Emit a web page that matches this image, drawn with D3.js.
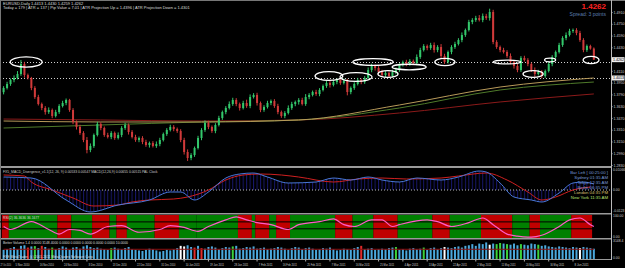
<!DOCTYPE html>
<html><head><meta charset="utf-8">
<script src="https://cdn.jsdelivr.net/npm/d3@7"></script>
<style>
html,body{margin:0;padding:0;background:#000;overflow:hidden;}
svg{display:block;}
text{font-family:"Liberation Sans",Arial,sans-serif;}
</style></head><body><svg id="chart"></svg><script>
// EURUSD daily, bar by bar (close), open = previous close
const closes = [
  1.3877,1.3931,1.3985,1.4013,1.4067,1.4203,1.4053,1.4013,1.3877,1.3754,
  1.3659,1.3605,1.3550,1.3578,1.3496,1.3550,1.3632,1.3673,1.3714,1.3578,
  1.3415,1.3347,1.3265,1.3170,1.3034,1.3088,1.3238,1.3387,1.3333,1.3238,
  1.3211,1.3265,1.3197,1.3238,1.3333,1.3374,1.3279,1.3211,1.3170,1.3197,
  1.3143,1.3102,1.3129,1.3088,1.3115,1.3170,1.3251,1.3306,1.3347,1.3319,
  1.3292,1.3170,1.3007,1.2925,1.2966,1.3061,1.3197,1.3306,1.3401,1.3347,
  1.3292,1.3374,1.3469,1.3550,1.3605,1.3659,1.3714,1.3659,1.3605,1.3673,
  1.3632,1.3754,1.3782,1.3673,1.3578,1.3618,1.3673,1.3700,1.3632,1.3550,
  1.3496,1.3537,1.3605,1.3659,1.3686,1.3714,1.3659,1.3754,1.3782,1.3822,
  1.3795,1.3850,1.3904,1.3945,1.3918,1.3958,1.3985,1.3945,1.3972,1.3822,
  1.3877,1.3931,1.3985,1.3958,1.4013,1.4121,1.4176,1.4149,1.4094,1.4053,
  1.4081,1.4040,1.4094,1.4121,1.4189,1.4230,1.4203,1.4244,1.4217,1.4298,
  1.4393,1.4448,1.4420,1.4461,1.4393,1.4434,1.4312,1.4230,1.4366,1.4434,
  1.4475,1.4529,1.4597,1.4665,1.4774,1.4801,1.4828,1.4801,1.4855,1.4828,
  1.4910,1.4502,1.4434,1.4393,1.4366,1.4312,1.4230,1.4176,1.4121,1.4285,
  1.4257,1.4203,1.4121,1.4067,1.4094,1.4040,1.4108,1.4203,1.4298,1.4366,
  1.4461,1.4556,1.4597,1.4652,1.4665,1.4624,1.4529,1.4393,1.4448,1.4413,
  1.4262
];
const firstOpen = 1.3820;
// wick lengths above / below the body, in pips
const wickHi = [
  25,30,20,35,40,55,30,20,15,25, 30,20,25,35,20,30,25,30,20,15,
  25,20,30,25,40,35,20,30,25,20, 30,25,20,35,25,30,20,25,30,20,
  25,30,20,25,35,30,20,25,30,25, 20,25,30,35,25,20,30,25,35,30,
  20,25,30,20,25,35,30,25,20,30, 45,35,25,30,20,25,30,20,25,30,
  20,25,35,30,20,25,30,40,25,20, 30,25,20,35,25,30,20,25,35,30,
  20,25,30,20,25,35,30,20,25,30, 25,20,30,35,25,20,30,25,20,35,
  30,25,20,30,35,25,40,30,20,25, 30,25,35,20,30,25,30,40,35,30,
  45,30,25,20,30,25,35,20,30,25, 30,25,20,35,30,25,20,30,25,20,
  30,25,35,30,20,25,30,25,20,17, 15
];
const wickLo = [
  30,20,25,30,20,25,35,20,30,25, 20,30,35,25,30,20,25,20,30,25,
  30,35,25,30,45,30,25,20,30,25, 20,30,25,20,30,25,35,20,25,30,
  30,25,35,20,25,30,20,25,20,30, 25,30,35,40,30,25,20,30,25,30,
  25,30,20,25,30,20,25,30,35,20, 25,30,20,35,30,25,20,30,25,30,
  25,30,20,25,30,35,20,25,30,20, 25,30,20,25,35,20,30,25,20,45,
  30,25,20,30,25,20,30,35,25,20, 30,25,20,30,25,20,30,25,20,30,
  25,20,30,25,35,30,40,25,20,30, 25,20,30,25,20,30,25,20,30,25,
  35,30,25,30,20,25,30,35,30,25, 20,30,25,35,20,30,25,20,30,25,
  20,25,30,20,25,30,25,30,25,15, 3
];
const volumes = [
  1600,1750,1900,2100,1700,2300,2400,2000,2200,2250, 1900,2300,2100,1800,2000,1700,1900,2200,2000,1600,
  2000,2100,1800,2200,2400,2100,1900,2000,1800,1700, 1600,1900,2000,1800,1700,1900,2100,1700,1600,1500,
  1400,1600,1800,1700,1500,1300,1400,1600,1500,1700, 1900,2300,2200,2400,2100,2000,2300,1900,1800,2100,
  2200,2000,1700,1900,2100,2000,2200,2300,1800,1900, 2100,2000,2200,1800,1900,2000,1700,1800,1900,2100,
  2000,1800,1600,1900,2100,2000,1700,1900,2000,1800, 1600,1700,1900,1800,2000,1700,1500,1600,1800,1700,
  1600,1900,2100,2300,1700,1800,1900,1600,1700,1800, 1700,1900,2000,2100,1600,1700,1500,1800,1900,1700,
  1800,2000,1600,1900,2000,1700,1900,2100,2000,1900, 2100,2200,2000,2300,2400,2600,2300,2700,2600,2900,
  2500,2700,2600,2800,2700,2600,2500,2700,2400,2600, 2500,2400,2700,2600,2500,2300,2400,2200,2100,2000,
  2200,2100,2000,1900,2100,2000,1900,2100,2000,1900, 1800
];
const volColored = [[7,"red"],[9,"green"],[11,"red"],[14,"green"],[31,"green"],[51,"white"],[52,"white"],
  [55,"red"],[57,"red"],[66,"green"],[103,"red"],[113,"green"],[121,"green"],[127,"white"],[140,"white"],
  [142,"green"],[143,"green"],[145,"green"],[149,"green"],[154,"green"],[166,"white"]];
const volAvg = [[0,1700],[170,1700]];

// moving averages [bar, price]
const maTan = [[0,1.3428],[28,1.3415],[57,1.3415],[85,1.3442],[114,1.3646],[143,1.3890],[170,1.4013]];
const maGreen = [[0,1.3333],[28,1.3374],[57,1.3415],[85,1.3442],[114,1.3605],[143,1.3850],[170,1.3958]];
const maRed = [[0,1.3455],[28,1.3442],[57,1.3428],[85,1.3442],[114,1.3537],[143,1.3687],[170,1.3796]];
const levels = [1.4230, 1.4013];

// MACD main (blue) and signal (red) [bar, value]
const macdMain = [[0,0.0065],[8,0.0060],[18,-0.0050],[25,-0.0110],[33,-0.0075],[42,-0.0050],[48,-0.0010],
  [51,-0.0010],[55,-0.0050],[59,-0.0010],[64,0.0060],[68,0.0080],[72,0.0085],[76,0.0065],[82,0.0035],
  [90,0.0040],[95,0.0060],[100,0.0050],[105,0.0065],[109,0.0050],[114,0.0040],[119,0.0060],[126,0.0050],
  [131,0.0065],[137,0.0095],[139,0.0090],[143,0.0035],[147,-0.0035],[152,-0.0050],[155,-0.0060],
  [160,-0.0015],[164,0.0035],[167,0.0040],[170,0.0030]];
const macdSignal = [[0,0.0075],[6,0.0070],[8,0.0040],[14,0.0000],[20,-0.0040],[26,-0.0080],[33,-0.0075],
  [37,-0.0060],[42,-0.0050],[49,-0.0045],[53,-0.0035],[59,0.0000],[64,0.0050],[69,0.0075],[74,0.0080],
  [80,0.0075],[85,0.0065],[95,0.0040],[102,0.0055],[109,0.0060],[116,0.0055],[126,0.0060],[131,0.0070],
  [139,0.0085],[145,0.0050],[151,-0.0010],[155,-0.0050],[159,-0.0035],[164,0.0000],[169,0.0015]];

// RSI [bar, value] and trend zones [from, to, colour]
const rsi = [[0,50],[2,37],[8,71],[13,37],[16,17],[19,37],[22,33],[25,17],[30,50],[34,54],[39,25],[45,37],
  [48,54],[52,46],[56,29],[59,50],[64,79],[67,92],[70,79],[73,67],[77,58],[82,37],[85,58],[91,71],[95,83],
  [98,58],[101,50],[106,79],[109,79],[112,50],[114,58],[122,79],[125,71],[129,50],[134,67],[138,87],
  [141,58],[145,17],[148,8],[151,4],[152,4],[155,12],[160,50],[163,79],[166,87],[169,58],[170,50]];
const rsiZones = [[0,2,"r"],[2,16,"g"],[16,20,"r"],[20,26,"g"],[26,31,"r"],[31,33,"g"],[33,36,"r"],
  [36,44,"g"],[44,51,"r"],[51,56,"g"],[56,68,"g"],[68,72,"r"],[72,73,"g"],[73,77,"r"],[77,79,"g"],
  [79,83,"r"],[83,96,"g"],[96,101,"r"],[101,107,"g"],[107,114,"r"],[114,124,"g"],[124,129,"r"],
  [129,138,"g"],[138,147,"r"],[147,152,"g"],[152,155,"r"],[155,164,"g"],[164,170,"r"]];

const priceTicks = [1.4910,1.4750,1.4590,1.4430,1.4270,1.4110,1.3950,1.3790,1.3630,1.3470,1.3310,1.3150,1.2990,1.2830];
const dateLabels = ["5 Nov 2010","16 Nov 2010","24 Nov 2010","3 Dec 2010","13 Dec 2010","22 Dec 2010",
  "31 Dec 2010","10 Jan 2011","19 Jan 2011","28 Jan 2011","7 Feb 2011","16 Feb 2011","25 Feb 2011",
  "7 Mar 2011","16 Mar 2011","25 Mar 2011","4 Apr 2011","13 Apr 2011","22 Apr 2011","2 May 2011",
  "11 May 2011","20 May 2011","30 May 2011","8 Jun 2011"];
const firstDate = "27 Oct 2010";
// hand drawn marks: [centre bar, centre price, half width in bars, half height in pips]
const ellipses = [[6.5,1.4230,4.6,70],[93.7,1.4040,4,60],[101.5,1.4026,4.6,60],[106.4,1.4230,5.8,45],
  [110.7,1.4067,2.9,45],[116.8,1.4162,4.9,38],[127.1,1.4230,2.9,50],[145,1.4230,4,25],[152.5,1.4067,2.9,45],
  [157.4,1.4257,1.6,25],[169.2,1.4257,2.3,50]];

const W = 625, H = 268;
const svg = d3.select("#chart").attr("width", W).attr("height", H);
svg.append("rect").attr("width", W).attr("height", H).attr("fill", "#000");

const x = d3.scaleLinear().domain([0, 170]).range([3.6, 3.6 + 170 * 3.472]);
const y = d3.scaleLinear().domain([1.2830, 1.4910]).range([165, 12]);
const axisX = 611;

const bars = closes.map((c, i) => {
  const o = i == 0 ? firstOpen : closes[i - 1];
  return {i: i, o: o, c: c, h: Math.max(o, c) + wickHi[i] / 10000, l: Math.min(o, c) - wickLo[i] / 10000};
});

const main = svg.append("g");
main.append("clipPath").attr("id", "mainclip").append("rect").attr("x", 0).attr("y", 1).attr("width", axisX).attr("height", 165);
const mg = main.append("g").attr("clip-path", "url(#mainclip)");

// level lines
mg.selectAll("line.lvl").data(levels).enter().append("line")
  .attr("x1", 0).attr("x2", axisX).attr("y1", d => Math.round(y(d)) + 0.5).attr("y2", d => Math.round(y(d)) + 0.5)
  .attr("stroke", "#cfcfcf").attr("stroke-width", 1).attr("stroke-dasharray", "1,2");

// moving averages
const maLine = d3.line().x(d => x(d[0])).y(d => y(d[1])).curve(d3.curveMonotoneX);
[[maRed, "#8b1a1a"], [maGreen, "#4f7a2a"], [maTan, "#b89a5a"]].forEach(m => {
  mg.append("path").attr("d", maLine(m[0])).attr("fill", "none").attr("stroke", m[1]).attr("stroke-width", 1);
});

// candles
const up = "#33c76b", dn = "#d03a3a";
const cg = mg.selectAll("g.bar").data(bars).enter().append("g");
cg.append("line").attr("x1", d => x(d.i)).attr("x2", d => x(d.i))
  .attr("y1", d => y(d.h)).attr("y2", d => y(d.l))
  .attr("stroke", d => d.c >= d.o ? up : dn).attr("stroke-width", 1);
cg.append("rect").attr("x", d => x(d.i) - 1).attr("width", 2)
  .attr("y", d => y(Math.max(d.o, d.c))).attr("height", d => Math.max(1, Math.abs(y(d.o) - y(d.c))))
  .attr("fill", d => d.c >= d.o ? up : dn);

// ellipses
mg.selectAll("ellipse").data(ellipses).enter().append("ellipse")
  .attr("cx", d => x(d[0])).attr("cy", d => y(d[1]))
  .attr("rx", d => d[2] * 3.472).attr("ry", d => Math.abs(y(d[1]) - y(d[1] + d[3] / 10000)))
  .attr("fill", "none").attr("stroke", "#fff").attr("stroke-width", 1.3);

// header texts
svg.append("text").attr("x", 3).attr("y", 5).attr("fill", "#ddd").attr("font-size", 4)
  .text("EURUSD,Daily  1.4413 1.4430 1.4259 1.4262");
svg.append("text").attr("x", 3).attr("y", 9.2).attr("fill", "#ddd").attr("font-size", 4)
  .text("Today = 179  |  ATR = 137  |  Pip Value = 7.01  |  ATR Projection Up = 1.4396  |  ATR Projection Down = 1.4301");
svg.append("text").attr("x", 606).attr("y", 9).attr("text-anchor", "end").attr("fill", "#ff2020")
  .attr("font-size", 8).attr("font-weight", "bold").text("1.4262");
svg.append("text").attr("x", 606).attr("y", 15.5).attr("text-anchor", "end").attr("fill", "#5c7fb0")
  .attr("font-size", 5).text("Spread: 3 points");

// price axis
const pa = svg.append("g").attr("transform", `translate(${axisX},0)`)
  .call(d3.axisRight(y).tickValues(priceTicks).tickSize(1.5).tickFormat(d3.format(".4f")));
pa.select(".domain").remove();
pa.selectAll("line").attr("stroke", "#bbb");
pa.selectAll("text").attr("fill", "#ccc").attr("font-size", 3.6).attr("x", 2.5).style("font-family", "Liberation Sans");
[[1.4262, "1.4262"], [1.4013, "1.4013"]].forEach(b => {
  svg.append("rect").attr("x", axisX + 1).attr("y", y(b[0]) - 2.5).attr("width", 12.5).attr("height", 5).attr("fill", "#eee");
  svg.append("text").attr("x", axisX + 2).attr("y", y(b[0]) + 1.4).attr("fill", "#000").attr("font-size", 3.6).text(b[1]);
});

// panel frames
const sep = "#9a9a9a";
[[166, 2], [213, 1.5], [238, 1.5], [259, 1]].forEach(s => {
  svg.append("rect").attr("x", 0).attr("y", s[0]).attr("width", axisX).attr("height", s[1]).attr("fill", sep);
});
svg.append("rect").attr("x", 0).attr("y", 0).attr("width", W).attr("height", 1).attr("fill", "#777");
svg.append("line").attr("x1", axisX + 0.5).attr("x2", axisX + 0.5).attr("y1", 0).attr("y2", 260).attr("stroke", "#bbb");
svg.append("line").attr("x1", 0.5).attr("x2", 0.5).attr("y1", 0).attr("y2", 260).attr("stroke", "#777");

// MACD panel
const ym = d3.scaleLinear().domain([-0.0110, 0.0100]).range([212, 170]);
const defs = svg.append("defs");
const pat = defs.append("pattern").attr("id", "hist").attr("patternUnits", "userSpaceOnUse")
  .attr("width", 3.472).attr("height", 10).attr("x", 3.1);
pat.append("rect").attr("width", 1).attr("height", 10).attr("fill", "#17176a");
defs.append("clipPath").attr("id", "macdclip").append("rect").attr("x", 0).attr("y", 168).attr("width", axisX).attr("height", 45);
const mp = svg.append("g").attr("clip-path", "url(#macdclip)");
mp.append("path").datum(macdMain)
  .attr("d", d3.area().x(d => x(d[0])).y0(ym(0)).y1(d => ym(d[1])).curve(d3.curveMonotoneX))
  .attr("fill", "url(#hist)");
mp.append("line").attr("x1", 0).attr("x2", axisX).attr("y1", ym(0)).attr("y2", ym(0))
  .attr("stroke", "#bbb").attr("stroke-dasharray", "1,2");
const ml = d3.line().x(d => x(d[0])).y(d => ym(d[1])).curve(d3.curveMonotoneX);
mp.append("path").attr("d", ml(macdSignal)).attr("fill", "none").attr("stroke", "#d02020").attr("stroke-width", 1);
mp.append("path").attr("d", ml(macdMain)).attr("fill", "none").attr("stroke", "#4a78d8").attr("stroke-width", 1);
svg.append("text").attr("x", 3).attr("y", 172.5).attr("fill", "#ccc").attr("font-size", 3.4)
  .text("FX5_MACD_Divergence_v1.1(12, 26, 9) 0.00533 0.00547   MACD(12,26,9) 0.00655 0.00515   PAL Clock");
const clock = [["Bar Left  [ 00:25:00 ]", "#7a9ad8"], ["Sydney    01:35 AM", "#7a9ad8"], ["Tokyo    12:35 AM", "#7a9ad8"],
  ["Berlin    06:35 PM", "#7a9ad8"], ["London    04:35 PM", "#d8c070"], ["New York    11:35 AM", "#b8e070"]];
clock.forEach((c, k) => {
  svg.append("text").attr("x", 608).attr("y", 174 + k * 5).attr("text-anchor", "end").attr("fill", c[1])
    .attr("font-size", 4.3).text(c[0]);
});

// RSI panel
const yr = d3.scaleLinear().domain([0, 100]).range([238, 215]);
const rp = svg.append("g");
rp.selectAll("rect.z").data(rsiZones).enter().append("rect")
  .attr("x", d => x(d[0]) - 1.736).attr("width", d => (d[1] - d[0]) * 3.472)
  .attr("y", 215).attr("height", 23).attr("fill", d => d[2] == "r" ? "#c00000" : "#008000");
[70, 40].forEach(v => rp.append("line").attr("x1", 0).attr("x2", x(170) + 2).attr("y1", yr(v)).attr("y2", yr(v)).attr("stroke", "#000"));
rp.append("path").attr("d", d3.line().x(d => x(d[0])).y(d => yr(d[1])).curve(d3.curveMonotoneX)(rsi))
  .attr("fill", "none").attr("stroke", "#ff5ac8").attr("stroke-width", 1.2);
svg.append("text").attr("x", 3).attr("y", 218.5).attr("fill", "#ddd").attr("font-size", 3.4).text("RSI(2) 36.3636 36.1677");

// volume panel
const yv = d3.scaleLinear().domain([0, 3148.4]).range([259, 241]);
const vcol = {red: "#e02a2a", green: "#3bd23b", white: "#ffffff"};
const vc = new Map(volColored);
svg.selectAll("rect.vol").data(volumes).enter().append("rect")
  .attr("x", (d, i) => x(i) - 1).attr("width", 2).attr("y", d => yv(d)).attr("height", d => 259 - yv(d))
  .attr("fill", (d, i) => vc.has(i) ? vcol[vc.get(i)] : "#4aa8dc");
svg.append("path").attr("d", d3.line().x(d => x(d[0])).y(d => yv(d[1]))(volAvg)).attr("stroke", "#8b1010").attr("fill", "none");
svg.append("text").attr("x", 3).attr("y", 243.5).attr("fill", "#ddd").attr("font-size", 3.4)
  .text("Better Volume 1.4 0.0000 3148.4000 0.0000 0.0000 0.0000 0.0000 0.0000 10.0000");
svg.append("text").attr("x", 3).attr("y", 257.5).attr("fill", "#ddd").attr("font-size", 3.4)
  .text("FXE MetaTrader, (c) 2001-2011 MetaQuotes Software Corp.");

// sub panel labels
[[171, "0.01066"], [ym(0) + 1.3, "0.00"], [211.5, "-0.0123"], [217, "100.00"], [237.5, "0.00"], [242, "3148.4"], [258.5, "0.00"]].forEach(l => {
  svg.append("text").attr("x", axisX + 2).attr("y", l[0]).attr("fill", "#ccc").attr("font-size", 3.4).text(l[1]);
});

// date axis
const dg = svg.append("g");
dg.append("text").attr("x", 0.5).attr("y", 265.5).attr("fill", "#ccc").attr("font-size", 3.1)
  .attr("textLength", 10.5).attr("lengthAdjust", "spacingAndGlyphs").text(firstDate);
dg.selectAll("text.d").data(dateLabels).enter().append("text")
  .attr("x", (d, k) => x(3 + 7 * k) + 1.5).attr("y", 265.5).attr("fill", "#ccc").attr("font-size", 3.3)
  .attr("textLength", 14).attr("lengthAdjust", "spacingAndGlyphs").text(d => d);
dg.selectAll("line.d").data(dateLabels).enter().append("line")
  .attr("x1", (d, k) => x(3 + 7 * k)).attr("x2", (d, k) => x(3 + 7 * k)).attr("y1", 259).attr("y2", 261.5).attr("stroke", "#aaa");
</script></body></html>
